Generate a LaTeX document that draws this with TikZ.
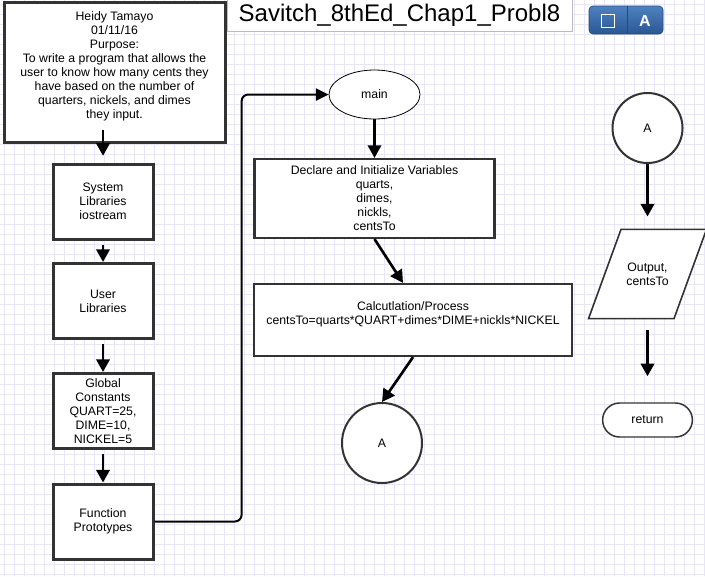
\documentclass[tikz,border=0pt]{standalone}
\usepackage{fontspec}
\setmainfont{Liberation Sans}
\usetikzlibrary{positioning,shapes.geometric,shapes.misc,arrows.meta}

\definecolor{boxgray}{HTML}{333333}
\definecolor{gridlav}{HTML}{E8E6F6}
\definecolor{titlegray}{HTML}{BBBBBB}
\definecolor{btntop}{HTML}{4E81C0}
\definecolor{btnbot}{HTML}{2A5792}
\definecolor{btnline}{HTML}{22497D}

\begin{document}
\begin{tikzpicture}[
  x=0.75pt, y=-0.75pt,
  font=\fontsize{9.2}{10.5}\selectfont,
  node distance=2cm,
  stepbox/.style={rectangle, draw=boxgray, fill=white, line width=2.25pt, align=center, minimum width=75pt, minimum height=56.25pt, inner sep=2pt},
  procbox/.style={rectangle, draw=boxgray, fill=white, line width=1.6pt, align=center, inner sep=2pt},
  connector/.style={circle, draw=boxgray, fill=white, line width=1.5pt, inner sep=0pt},
  terminal/.style={ellipse, draw=black, fill=white, line width=0.6pt},
  iobox/.style={trapezium, trapezium left angle=70, trapezium right angle=110, trapezium stretches body, draw=boxgray, fill=white, line width=1.2pt, align=center, inner xsep=2pt, inner ysep=25pt},
  endbox/.style={rounded rectangle, draw=boxgray, fill=white, line width=1.1pt},
  arrow/.style={-{Triangle[width=10pt,length=9.5pt]}, line width=2pt},
  link/.style={-{Triangle[width=9pt,length=9.5pt]}, line width=1.5pt, rounded corners=5pt},
  gridline/.style={draw=gridlav, line width=0.75pt}
]

% Page and grid
\fill[white] (0,0) rectangle (705,576);
\useasboundingbox (0,0) rectangle (705,576);
\foreach \gx in {4,14,...,704} \draw[gridline] (\gx,0) -- (\gx,576);
\foreach \gy in {4,14,...,574} \draw[gridline] (0,\gy) -- (705,\gy);

% Title and button
\node[draw=titlegray, fill=white, line width=0.75pt, minimum width=258.75pt, minimum height=20.25pt, font=\fontsize{18}{20}\selectfont] (title) at (399.5,15.5) {Savitch\_8thEd\_Chap1\_Probl8};
\node[rounded corners=3pt, top color=btntop, bottom color=btnbot, draw=btnline, line width=0.5pt, minimum width=55.5pt, minimum height=21pt] (btn) at (626,20) {};
\draw[btnline, line width=0.75pt] ([xshift=0.75pt]btn.north) -- ([xshift=0.75pt]btn.south);
\node[draw=white, line width=0.9pt, minimum size=10pt, inner sep=0pt] (btnsq) at (608,21) {};
\node[text=white, font=\fontsize{12}{12}\selectfont\bfseries] (btnA) at (645,20.5) {A};

% Header
\node[stepbox, minimum width=165.75pt, minimum height=105pt] (head) at (114.5,72) {Heidy Tamayo\\01/11/16\\Purpose:\\To write a program that allows the\\user to know how many cents they\\have based on the number of\\quarters, nickels, and dimes\\they input.\\~};

% Left column
\node[stepbox] (sys) at (103,201.5) {System\\Libraries\\iostream};
\node[stepbox, below of=sys, node distance=74.6pt] (usr) {User\\Libraries};
\node[stepbox, below of=usr, node distance=82.5pt] (glob) {Global\\Constants\\QUART=25,\\DIME=10,\\NICKEL=5};
\node[stepbox, below of=glob, node distance=82.9pt] (proto) {Function\\Prototypes};

\draw[arrow, shorten >=5pt] (sys.north |- head.south) ++(0,-14) -- (sys.north);
\draw[arrow, shorten <=3pt] (sys) -- (usr);
\draw[arrow, shorten <=3pt] (usr) -- (glob);
\draw[arrow, shorten <=3pt] (glob) -- (proto);

% Main flow
\node[terminal, minimum width=68.25pt, minimum height=36.75pt] (main) at (374.5,94.5) {main};
\node[procbox, minimum width=180pt, minimum height=59.25pt, below of=main, node distance=78pt] (decl) {Declare and Initialize Variables\\quarts,\\dimes,\\nickls,\\centsTo};
\node[procbox, minimum width=238.5pt, minimum height=54pt] (calc) at (413,320) {Calcutlation/Process\\centsTo=quarts*QUART+dimes*DIME+nickls*NICKEL\\~};
\node[connector, minimum size=60pt] (conA) at (382,443) {A};

\draw[link] (proto.east) -| ([xshift=-65.25pt]main.west) -- (main.west);
\draw[arrow] (main) -- (decl);
\draw[arrow] (decl.south) -- ([xshift=-7.5pt]calc.north);
\draw[arrow] (calc.south) -- (conA.north);

% Right column
\node[connector, minimum size=52.5pt] (conB) at (647.5,128) {A};
\node[iobox, minimum width=88.5pt, below of=conB, node distance=109.5pt] (out) {Output,\\centsTo};
\node[endbox, minimum width=74pt, minimum height=25.5pt] (ret) at (647.5,420) {return};

\draw[arrow, shorten >=9pt] (conB.south) -- (conB.south |- out.north);
\draw[arrow, shorten <=8pt, shorten >=19.5pt] (out.south) -- (ret.north);

\end{tikzpicture}
\end{document}
